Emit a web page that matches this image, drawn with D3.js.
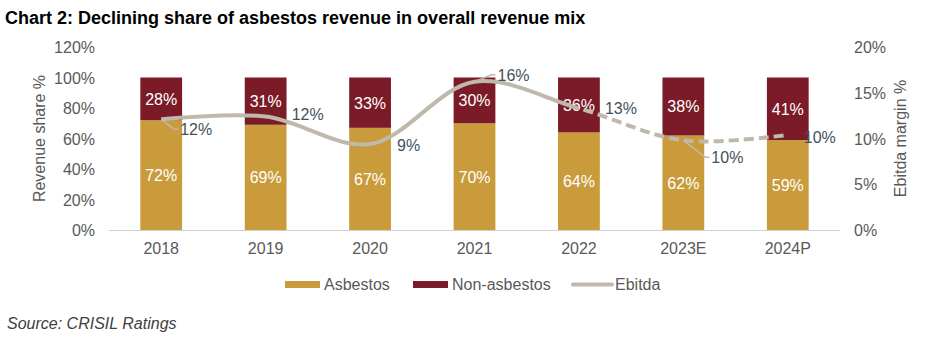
<!DOCTYPE html>
<html>
<head>
<meta charset="utf-8">
<script src="https://cdn.jsdelivr.net/npm/d3@7"></script>
<style>
	body { margin: 0; background: #fff; }
	text { font-family: Arial, "Liberation Sans", sans-serif; }
</style>
</head>
<body>
<svg id="chart" width="925" height="340"></svg>
<script>
var years = ['2018', '2019', '2020', '2021', '2022', '2023E', '2024P'];
var asbestos = [72, 69, 67, 70, 64, 62, 59];
var non_asbestos = [28, 31, 33, 30, 36, 38, 41];
var ebitda = [12.1, 12.4, 9.4, 16.2, 13.3, 9.8, 10.4];
var left_ticks = [0, 20, 40, 60, 80, 100, 120];
var right_ticks = [0, 5, 10, 15, 20];

var col_asb = '#C99B3A', col_non = '#7A1B27', col_line = '#BFB8AC', col_txt = '#595959';
var fs = 16;

var svg = d3.select('#chart');
var p_left = 109, p_right = 840, p_top = 47, p_bottom = 230;

var x = d3.scaleBand().domain(years).range([p_left, p_right]).paddingInner(0.6).paddingOuter(0.3);
var y = d3.scaleLinear().domain([0, 120]).range([p_bottom, p_top]);
var y2 = d3.scaleLinear().domain([0, 20]).range([p_bottom, p_top]);
var cx = function(d) { return x(d) + x.bandwidth() / 2; };

// titre
svg.append('text').attr('x', 5).attr('y', 24)
	.attr('font-size', 18).attr('font-weight', 'bold').attr('fill', '#000')
	.text('Chart 2: Declining share of asbestos revenue in overall revenue mix');

// axes
svg.append('line').attr('x1', p_left).attr('x2', p_right).attr('y1', p_bottom + 0.5).attr('y2', p_bottom + 0.5)
	.attr('stroke', '#d0d0d0');

svg.selectAll('text.lt').data(left_ticks).enter().append('text')
	.attr('x', 95).attr('y', function(d) { return y(d) + 6; })
	.attr('text-anchor', 'end').attr('font-size', fs).attr('fill', col_txt)
	.text(function(d) { return d + '%'; });

svg.selectAll('text.rt').data(right_ticks).enter().append('text')
	.attr('x', 854).attr('y', function(d) { return y2(d) + 6; })
	.attr('font-size', fs).attr('fill', col_txt)
	.text(function(d) { return d + '%'; });

svg.selectAll('text.xt').data(years).enter().append('text')
	.attr('x', cx).attr('y', 254)
	.attr('text-anchor', 'middle').attr('font-size', fs).attr('fill', col_txt)
	.text(function(d) { return d; });

svg.append('text').attr('transform', 'translate(45,' + (p_top + p_bottom) / 2 + ') rotate(-90)')
	.attr('text-anchor', 'middle').attr('font-size', fs).attr('fill', col_txt)
	.text('Revenue share %');
svg.append('text').attr('transform', 'translate(906,' + (p_top + p_bottom) / 2 + ') rotate(-90)')
	.attr('text-anchor', 'middle').attr('font-size', fs).attr('fill', col_txt)
	.text('Ebitda margin %');

// barres
years.forEach(function(yr, i) {
	var a = asbestos[i], n = non_asbestos[i];
	svg.append('rect').attr('x', x(yr)).attr('width', x.bandwidth())
		.attr('y', y(a)).attr('height', y(0) - y(a)).attr('fill', col_asb);
	svg.append('rect').attr('x', x(yr)).attr('width', x.bandwidth())
		.attr('y', y(a + n)).attr('height', y(a) - y(a + n)).attr('fill', col_non);
	svg.append('text').attr('x', cx(yr)).attr('y', (y(0) + y(a)) / 2 + 6)
		.attr('text-anchor', 'middle').attr('font-size', fs).attr('fill', '#fff')
		.text(a + '%');
	svg.append('text').attr('x', cx(yr)).attr('y', (y(a) + y(a + n)) / 2 + 6)
		.attr('text-anchor', 'middle').attr('font-size', fs).attr('fill', '#fff')
		.text(n + '%');
});

// ligne ebitda
var pts = years.map(function(yr, i) { return [cx(yr), y2(ebitda[i])]; });
var line = d3.line().curve(d3.curveCatmullRom.alpha(0.5));
var split = cx('2022');

var defs = svg.append('defs');
defs.append('clipPath').attr('id', 'c1').append('rect')
	.attr('x', 0).attr('y', 0).attr('width', split).attr('height', 340);
defs.append('clipPath').attr('id', 'c2').append('rect')
	.attr('x', split).attr('y', 0).attr('width', 925 - split).attr('height', 340);

svg.append('path').datum(pts).attr('d', line).attr('fill', 'none')
	.attr('stroke', col_line).attr('stroke-width', 4).attr('clip-path', 'url(#c1)');
svg.append('path').datum(pts).attr('d', line).attr('fill', 'none')
	.attr('stroke', col_line).attr('stroke-width', 4).attr('stroke-dasharray', '10,5')
	.attr('clip-path', 'url(#c2)');

// etiquettes ebitda (decalage par rapport au point)
var lbl_dx = [19, 26, 27, 23, 26, 28, 16];
var lbl_dy = [10, -3, 1, -7, 0, 17, 2];
var leader = [true, false, false, true, false, true, false];
years.forEach(function(yr, i) {
	var p = pts[i];
	var lx = p[0] + lbl_dx[i], ly = p[1] + lbl_dy[i];
	if (leader[i]) {
		svg.append('path')
			.attr('d', 'M' + p[0] + ',' + p[1] + 'L' + (lx - 6) + ',' + ly + 'L' + (lx - 2) + ',' + ly)
			.attr('stroke', col_line).attr('stroke-width', 1.5).attr('fill', 'none');
	}
	svg.append('text').attr('x', lx).attr('y', ly + 6)
		.attr('font-size', fs).attr('fill', '#44505c')
		.text(Math.round(ebitda[i]) + '%');
});

// legende
var legend = [['Asbestos', col_asb, 'rect', 285], ['Non-asbestos', col_non, 'rect', 413], ['Ebitda', col_line, 'line', 573]];
legend.forEach(function(d) {
	if (d[2] == 'rect') {
		svg.append('rect').attr('x', d[3]).attr('y', 281).attr('width', 35).attr('height', 7).attr('fill', d[1]);
	} else {
		svg.append('line').attr('x1', d[3]).attr('x2', d[3] + 39).attr('y1', 284.5).attr('y2', 284.5)
			.attr('stroke', d[1]).attr('stroke-width', 4).attr('stroke-linecap', 'round');
	}
	svg.append('text').attr('x', d[3] + (d[2] == 'rect' ? 39 : 42)).attr('y', 290)
		.attr('font-size', fs).attr('fill', col_txt).text(d[0]);
});

svg.append('text').attr('x', 7).attr('y', 329)
	.attr('font-size', fs).attr('font-style', 'italic').attr('fill', '#404040')
	.text('Source: CRISIL Ratings');
</script>
</body>
</html>
